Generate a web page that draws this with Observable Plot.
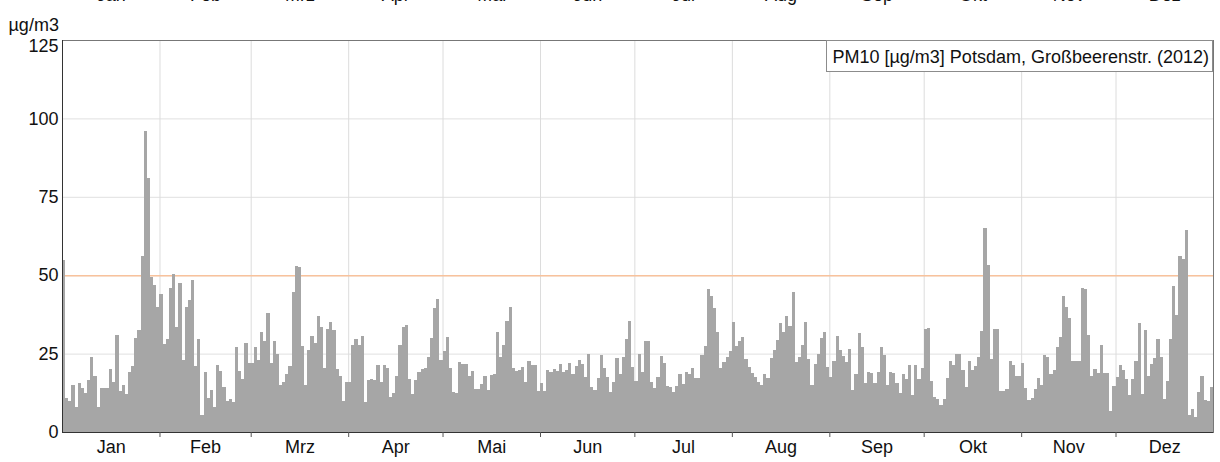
<!DOCTYPE html>
<html>
<head>
<meta charset="utf-8">
<script src="https://cdn.jsdelivr.net/npm/d3@7"></script>
<script src="https://cdn.jsdelivr.net/npm/@observablehq/plot@0.6"></script>
<style>
  html, body { margin: 0; padding: 0; background: white; }
  #wrap { position: relative; width: 1220px; height: 462px; overflow: hidden; }
  #legend {
    position: absolute; right: 7px; top: 40px; height: 32px;
    border: 1px solid #8c8c8c; background: white; box-sizing: border-box;
    font-family: "Liberation Sans", Arial, sans-serif;
    font-size: 18px; line-height: 32px; padding: 0 3px 0 5px; color: #111; white-space: nowrap;
  }
</style>
</head>
<body>
<div id="wrap"></div>
<script>
// PM10 daily means, Potsdam Großbeerenstr., 2012 (µg/m3)
const jan = [54.8, 11, 10, 15, 8, 15.5, 14, 12.5, 16.5, 24, 18, 8, 14, 14, 14, 20, 16, 31, 13, 15, 12, 19, 21, 30, 32.5, 56, 96, 81, 49.5, 47, 40];
const feb = [44, 28, 29.5, 46, 50.5, 33.5, 47.5, 23, 40, 42, 48.5, 21, 29.5, 5.5, 19, 11, 13.5, 8, 21.5, 19.5, 14.5, 10, 10.5, 9.5, 27, 19.5, 17, 28.5, 22];
const mar = [22, 27, 23, 32, 29, 38, 22, 29, 25, 15, 16, 18.5, 21, 44.5, 53, 52.5, 27.5, 15, 26, 30.5, 28.5, 37, 33.5, 20.5, 33, 35, 32.5, 20, 18, 10, 16];
const apr = [16, 27.7, 29.6, 27.7, 30.7, 9.7, 16.6, 17, 16.5, 21.5, 16, 21.5, 20.5, 11.3, 12.3, 18, 27.7, 33.6, 34, 17, 12, 16.6, 19, 20, 20.5, 24, 30, 39.5, 42.5, 23];
const may = [25.8, 30.2, 20.3, 12.9, 12.3, 22.2, 21.6, 21.7, 18, 19.4, 13.7, 13.7, 15.2, 18, 13.4, 18.2, 18.4, 31.8, 24, 27.7, 35.5, 40, 20.5, 19.4, 19.8, 20.8, 15.8, 22.6, 21.4, 21.4, 13.1];
const jun = [15.5, 13.1, 19.8, 19.2, 20.1, 19.5, 21.6, 19.2, 19.8, 21.9, 18.4, 21.1, 23, 21.6, 17.6, 24.8, 14.5, 13.4, 17.3, 24.5, 20.3, 17.6, 12.6, 16, 23.7, 18.4, 24, 29.6, 35.4, 20.8];
const jul = [16.3, 24.8, 19, 29, 29, 16, 13.9, 17.6, 24.3, 21.9, 14.8, 14.5, 12.9, 14.8, 18.4, 15.2, 19.2, 18.4, 20.5, 17.3, 17.1, 24.5, 27.5, 45.6, 43.5, 39.6, 31.8, 20.3, 22.2, 24, 25.8];
const aug = [35.2, 27.5, 29, 30.4, 23.3, 20.8, 18.7, 17.6, 16, 15, 18.4, 17.3, 23.7, 26.1, 29.3, 34.6, 32, 37.1, 33.9, 44.6, 22.2, 24, 27.7, 35.2, 23.3, 15, 21.6, 24.8, 29.9, 31.8, 20.8];
const sep = [17.6, 22.6, 30.7, 26.1, 24.3, 22.2, 26.5, 13.4, 18.4, 31.5, 27.2, 15.5, 19, 18.7, 15.5, 19, 27.2, 24.5, 15, 19, 18.7, 15.5, 12.5, 18.6, 16.8, 21.5, 11.7, 21.5, 16.8, 20.4];
const oct = [32.7, 33.2, 16.2, 11.2, 10.4, 8.7, 10.4, 17.2, 22.5, 21.5, 25, 25, 19.7, 14.3, 22.5, 19.7, 21, 23.9, 32.1, 65, 53.3, 23.2, 32.9, 32.9, 13, 13, 13.8, 22.5, 21.5, 18, 18];
const nov = [22.1, 14, 10.1, 10.8, 13.8, 17.2, 14.9, 24.4, 23.9, 18.6, 19.7, 27.1, 30.3, 43.4, 39.9, 36.3, 22.5, 22.5, 22.5, 45.9, 45.5, 31, 18, 20, 18.9, 27.6, 18.9, 18.9, 6.6, 14.7];
const dec = [17.5, 21.3, 19.7, 17, 11.9, 17, 22.5, 34.9, 12.2, 32.4, 18, 21.8, 23.6, 29.5, 23.9, 10.4, 16.2, 29.5, 46.5, 37.4, 56.1, 55.3, 64.3, 5.3, 7.2, 4.8, 12.8, 17.9, 10.1, 9.8, 14.3];

const monthLabels = ["Jan", "Feb", "Mrz", "Apr", "Mai", "Jun", "Jul", "Aug", "Sep", "Okt", "Nov", "Dez"];
const yTicks = [0, 25, 50, 75, 100, 125];
const limitValue = 50;
const unitLabel = "µg/m3";
const legendText = "PM10 [µg/m3] Potsdam, Großbeerenstr. (2012)";

const months = [jan, feb, mar, apr, may, jun, jul, aug, sep, oct, nov, dec];
const days = [];
months.forEach((vals, m) => {
  vals.forEach((v, i) => {
    const d = new Date(Date.UTC(2012, m, i + 1));
    days.push({date: d, next: new Date(Date.UTC(2012, m, i + 2)), value: v});
  });
});
const monthInfo = monthLabels.map((label, m) => {
  const start = new Date(Date.UTC(2012, m, 1));
  const end = new Date(Date.UTC(2012, m + 1, 1));
  return {label, start, mid: new Date((+start + +end) / 2)};
});

const font = '"Liberation Sans", Arial, sans-serif';

const chart = Plot.plot({
  width: 1220,
  height: 462,
  marginLeft: 62,
  marginRight: 7,
  marginTop: 40,
  marginBottom: 30,
  style: {fontFamily: font, fontSize: "18px", color: "#111", background: "white"},
  x: {type: "utc", domain: [new Date(Date.UTC(2012, 0, 1)), new Date(Date.UTC(2013, 0, 1))], axis: null},
  y: {type: "linear", domain: [0, 125], axis: null},
  marks: [
    Plot.ruleY(yTicks.slice(1), {stroke: "#e0e0e0", strokeWidth: 1}),
    Plot.ruleX(monthInfo.slice(1), {x: "start", stroke: "#dcdcdc", strokeWidth: 1}),
    Plot.ruleY([limitValue], {stroke: "#f8c29c", strokeWidth: 1.5}),
    Plot.rect(days, {x1: "date", x2: "next", y1: 0, y2: "value", fill: "#a6a6a6", shapeRendering: "crispEdges"}),
    Plot.frame({stroke: "#777", strokeWidth: 1}),
    Plot.ruleX(monthInfo.slice(0, 1), {x: "start", stroke: "#333"}),
    Plot.ruleY([0], {stroke: "#333"}),
    Plot.ruleX(monthInfo.slice(1), {x: "start", y1: 0, y2: 0, insetBottom: -5, stroke: "#555"}),
    Plot.text(yTicks.slice(0, -1), {y: d => d, text: d => String(d), frameAnchor: "left", textAnchor: "end", dx: -4, fill: "#111"}),
    Plot.text(yTicks.slice(-1), {y: d => d, text: d => String(d), frameAnchor: "left", textAnchor: "end", dx: -4, dy: 6, fill: "#111"}),
    Plot.text(monthInfo, {x: "mid", text: "label", frameAnchor: "bottom", lineAnchor: "top", dy: 8, fill: "#111"}),
    Plot.text(monthInfo, {x: "mid", text: "label", frameAnchor: "top", lineAnchor: "bottom", dy: -40, fill: "#111"}),
    Plot.text([unitLabel], {frameAnchor: "top-left", text: d => d, textAnchor: "start", lineAnchor: "bottom", dx: -54, dy: -10, fill: "#111"})
  ]
});
const wrap = document.getElementById("wrap");
wrap.appendChild(chart);
const leg = document.createElement("div");
leg.id = "legend";
leg.textContent = legendText;
wrap.appendChild(leg);
</script>
</body>
</html>
